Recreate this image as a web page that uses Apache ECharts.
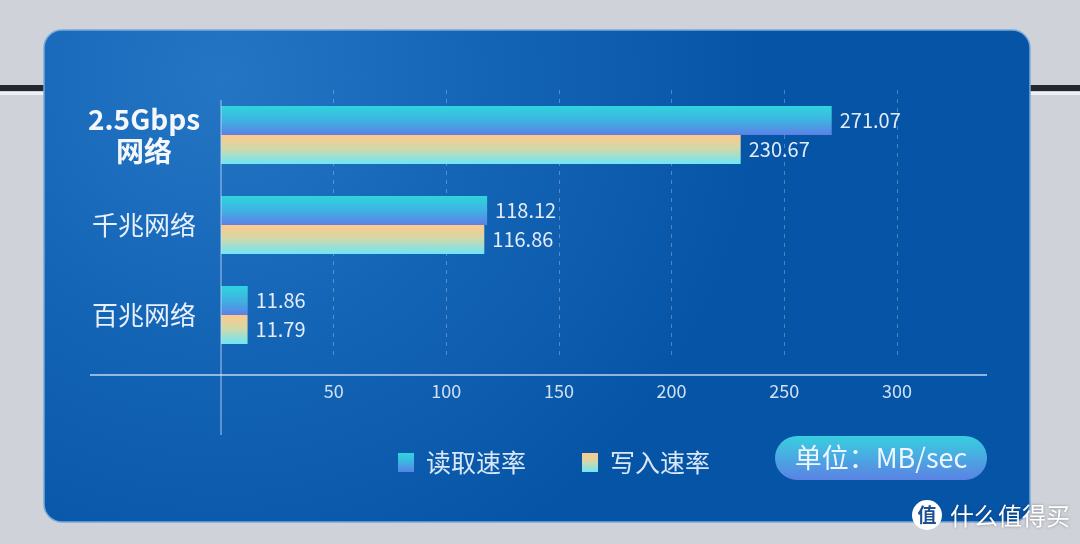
<!DOCTYPE html>
<html>
<head>
<meta charset="utf-8">
<script src="https://cdn.jsdelivr.net/npm/echarts@6/dist/echarts.min.js"></script>
<style>
html,body{margin:0;padding:0;background:#cfd2d9;}
#chart{width:1080px;height:544px;}
</style>
</head>
<body>
<div id="chart"></div>
<script>
var categories = ['2.5Gbps\n网络', '千兆网络', '百兆网络'];
var readValues = [271.07, 118.12, 11.86];
var writeValues = [230.67, 116.86, 11.79];
var seriesNames = ['读取速率', '写入速率'];
var xTicks = [0, 50, 100, 150, 200, 250, 300];
var unitText = '单位：MB/sec';

var FONT = '"Noto Sans CJK SC", "Noto Sans", sans-serif';
var chart = echarts.init(document.getElementById('chart'));

var readGrad = new echarts.graphic.LinearGradient(0, 0, 0, 1, [
  {offset: 0, color: '#2fd4de'},
  {offset: 0.5, color: '#3fb2e2'},
  {offset: 1, color: '#5c80e6'}
]);
var writeGrad = new echarts.graphic.LinearGradient(0, 0, 0, 1, [
  {offset: 0, color: '#fec98a'},
  {offset: 0.45, color: '#d4d8a8'},
  {offset: 1, color: '#6ee6f6'}
]);

var option = {
  backgroundColor: '#cfd2d9',
  animation: false,
  textStyle: {fontFamily: FONT},
  grid: {left: 221, right: 93, top: 90, bottom: 184, containLabel: false},
  xAxis: {
    type: 'value',
    min: 0,
    max: 340,
    interval: 50,
    offset: 15,
    axisLine: {show: false},
    axisTick: {show: false},
    axisLabel: {
      color: '#cfe0f3', fontSize: 18, margin: 7, fontFamily: FONT,
      showMinLabel: false, showMaxLabel: false,
      formatter: function (v) { return xTicks.indexOf(v) > 0 ? String(v) : ''; }
    },
    splitLine: {show: true, showMinLine: false, showMaxLine: false, lineStyle: {color: 'rgba(255,255,255,0.28)', type: [4, 5], width: 1}}
  },
  yAxis: {
    type: 'category',
    inverse: true,
    data: categories,
    axisLine: {show: false},
    axisTick: {show: false},
    axisLabel: {
      align: 'center',
      margin: 77,
      color: '#e8f0fa',
      fontSize: 26,
      fontFamily: FONT,
      formatter: function (v, i) {
        if (i === 0) {
          var parts = v.split('\n');
          return '{big|' + parts[0] + '}\n{big|' + parts[1] + '}';
        }
        return v;
      },
      rich: {
        big: {fontSize: 28, fontWeight: 'bold', lineHeight: 32, color: '#f4f8fd', fontFamily: FONT, align: 'center'}
      }
    }
  },
  legend: {
    data: seriesNames,
    left: 393,
    top: 445,
    icon: 'rect',
    itemWidth: 16,
    itemHeight: 19,
    itemGap: 56,
    textStyle: {color: '#d9e7f6', fontSize: 25, fontFamily: FONT, padding: [0, 0, 0, 7]}
  },
  series: [
    {
      name: seriesNames[0],
      type: 'bar',
      data: readValues,
      barWidth: 29,
      barGap: '0%',
      itemStyle: {color: readGrad},
      label: {
        show: true, position: 'right', distance: 8, color: '#e3ecf7', fontSize: 20, fontFamily: FONT,
        formatter: function (p) { return p.value.toFixed(2); }
      }
    },
    {
      name: seriesNames[1],
      type: 'bar',
      data: writeValues,
      barWidth: 29,
      barGap: '0%',
      itemStyle: {color: writeGrad},
      label: {
        show: true, position: 'right', distance: 8, color: '#e3ecf7', fontSize: 20, fontFamily: FONT,
        formatter: function (p) { return p.value.toFixed(2); }
      }
    }
  ],
  graphic: [
    {type: 'rect', z: -20, shape: {x: 0, y: 85, width: 44, height: 6}, style: {fill: '#23272f'}},
    {type: 'rect', z: -20, shape: {x: 0, y: 92, width: 44, height: 3}, style: {fill: '#eef0f4'}},
    {type: 'rect', z: -20, shape: {x: 1030, y: 85, width: 50, height: 6}, style: {fill: '#23272f'}},
    {type: 'rect', z: -20, shape: {x: 1030, y: 92, width: 50, height: 3}, style: {fill: '#eef0f4'}},
    {
      type: 'rect', z: -10,
      shape: {x: 44, y: 30, width: 986, height: 492, r: 18},
      style: {
        fill: new echarts.graphic.RadialGradient(0.18, 0.1, 1.1, [
          {offset: 0, color: '#2476c4'},
          {offset: 0.5, color: '#1464b6'},
          {offset: 1, color: '#0654a6'}
        ]),
        stroke: '#78a9dc', lineWidth: 1.5
      }
    },
    {type: 'line', z: 5, shape: {x1: 221, y1: 100, x2: 221, y2: 435}, style: {stroke: 'rgba(200,222,245,0.55)', lineWidth: 1.5}},
    {type: 'line', z: 5, shape: {x1: 90, y1: 375, x2: 987, y2: 375}, style: {stroke: 'rgba(220,235,250,0.85)', lineWidth: 1.5}},
    {
      type: 'rect', z: 5,
      shape: {x: 775, y: 436, width: 212, height: 44, r: 22},
      style: {
        fill: new echarts.graphic.LinearGradient(0, 0, 0, 1, [
          {offset: 0, color: '#38cfe0'},
          {offset: 1, color: '#5b82e4'}
        ])
      }
    },
    {
      type: 'text', z: 6, x: 881, y: 458,
      style: {text: unitText, fill: '#eef6ff', fontSize: 27, fontFamily: FONT, align: 'center', verticalAlign: 'middle'}
    },
    {type: 'circle', z: 6, shape: {cx: 927, cy: 515, r: 15}, style: {fill: '#ffffff'}},
    {type: 'text', z: 7, x: 927, y: 515, style: {text: '值', fill: '#1d4f93', fontSize: 19, fontWeight: 'bold', fontFamily: FONT, align: 'center', verticalAlign: 'middle'}},
    {type: 'text', z: 6, x: 950, y: 516, style: {text: '什么值得买', fill: '#ffffff', fontSize: 24, fontFamily: FONT, align: 'left', verticalAlign: 'middle', textShadowColor: 'rgba(0,0,0,0.35)', textShadowBlur: 3}}
  ]
};
chart.setOption(option);
</script>
</body>
</html>
